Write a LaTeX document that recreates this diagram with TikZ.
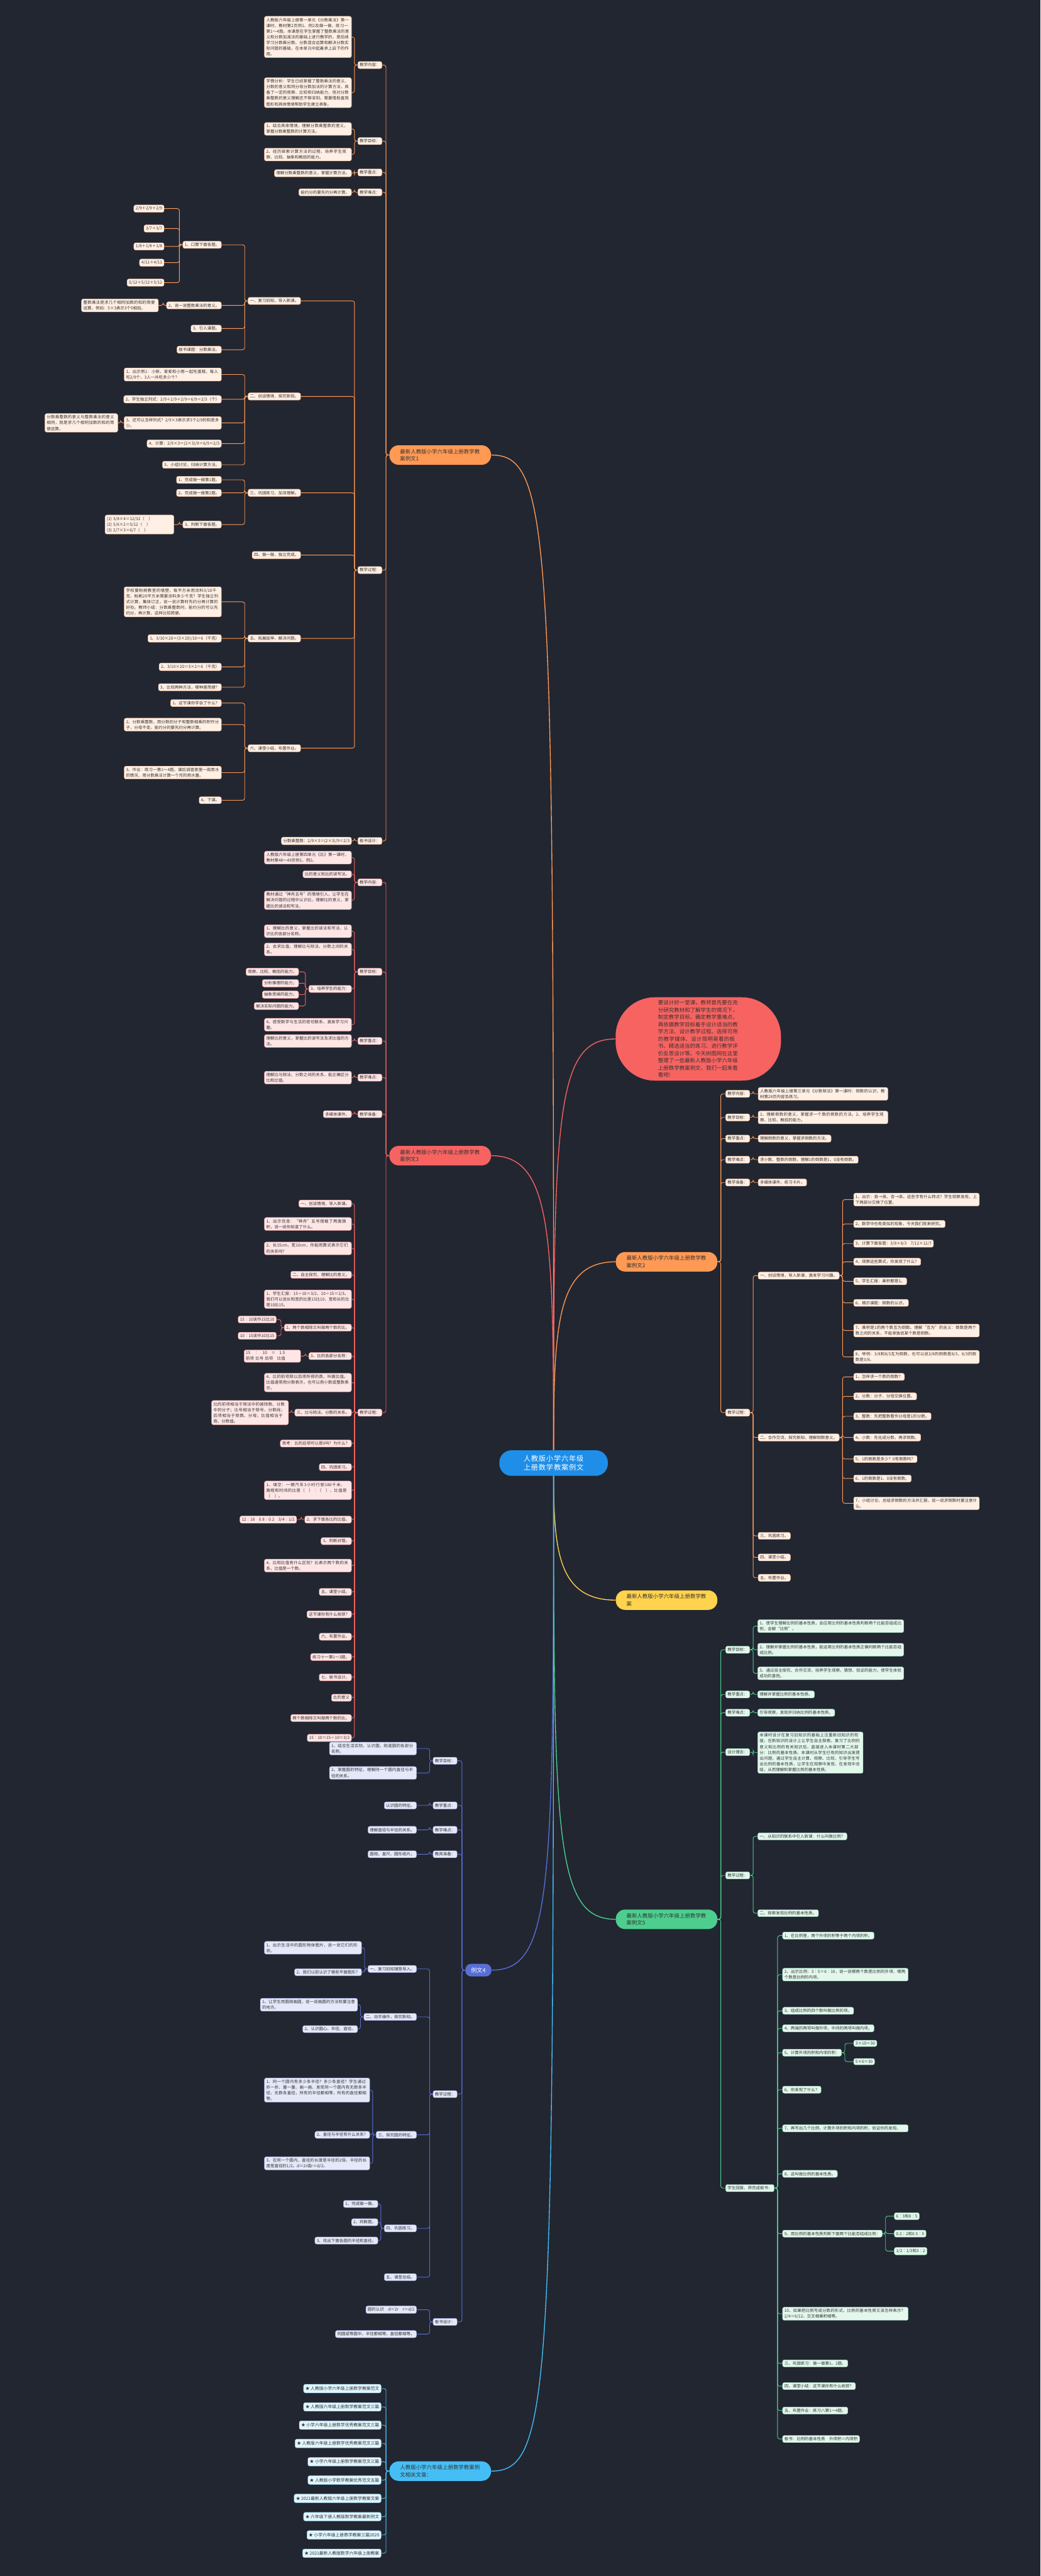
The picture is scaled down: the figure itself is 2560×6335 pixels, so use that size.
\documentclass[tikz,border=0pt]{standalone}
\usepackage{fontspec}
\setmainfont{Noto Sans CJK SC}
\XeTeXlinebreaklocale "zh"
\XeTeXlinebreakskip = 0pt plus 1pt
\usetikzlibrary{backgrounds}
\definecolor{bgdark}{RGB}{34,38,49}
\definecolor{rootblue}{RGB}{30,142,232}
\definecolor{orgA}{RGB}{255,153,84}
\definecolor{redA}{RGB}{247,99,97}
\definecolor{yelA}{RGB}{255,211,77}
\definecolor{grnA}{RGB}{77,206,142}
\definecolor{bluA}{RGB}{89,111,214}
\definecolor{cyaA}{RGB}{69,190,246}
\definecolor{textdark}{RGB}{51,51,51}
\newcommand{\linkL}[3]{\draw[link=#1] (#2.west) -- ++(-8,0) |- (#3.east);}
\newcommand{\linkR}[3]{\draw[link=#1] (#2.east) -- ++(8,0) |- (#3.west);}
\begin{document}
\begin{tikzpicture}[x=0.02cm,y=-0.02cm,
  rootnode/.style={fill=rootblue,text=white,rounded corners=17pt,minimum width=5.34cm,
    minimum height=1.26cm,text width=3.9cm,align=center,inner sep=2pt,font=\fontsize{9.9}{12.6}\selectfont},
  branch/.style={fill=#1,text=textdark,rounded corners=13pt,minimum width=5cm,minimum height=0.96cm,
    text width=3.95cm,inner xsep=0.52cm,inner ysep=2pt,align=left,font=\fontsize{7.4}{10}\selectfont},
  introbox/.style={fill=redA,text=textdark,rounded corners=55pt,minimum width=8.14cm,minimum height=4.1cm,
    text width=3.95cm,align=left,inner sep=2pt,font=\fontsize{7.4}{10.1}\selectfont},
  tag/.style={fill=#1!16!white,draw=#1!60!white,line width=0.4pt,rounded corners=2.5pt,text=textdark,
    inner xsep=2.6pt,inner ysep=2.3pt,font=\fontsize{5.7}{8}\selectfont},
  para/.style 2 args={tag=#1,text width=#2,align=left},
  link/.style={draw=#1,line width=0.8pt,rounded corners=3pt},
  trunk/.style={draw=#1,line width=1.2pt}
]
  \useasboundingbox (0,0) rectangle (2560,6335);

  % central topic
  \node[rootnode] (root) at (1362,3598) {人教版小学六年级上册数学教案例文};

  % intro text
  \node[introbox] (intro) at (1718,2555) {要设计好一堂课，教师首先要在充分研究教材和了解学生的情况下，制定教学目标、确定教学重难点，再依据教学目标着手设计适当的教学方法、设计教学过程、选择可用的教学媒体、设计简明易看的板书、精选适当的练习、进行教学评价反思设计等。今天树图网在这里整理了一些最新人教版小学六年级上册数学教案例文，我们一起来看看吧!};

  % example 1
  \node[branch=orgA] (b1) at (1083,1119) {最新人教版小学六年级上册数学教案例文1};
  \begin{scope}[every node/.append style={anchor=east}]
    \node[tag=orgA] (s1a) at (940,160) {教学内容：};
    \node[tag=orgA] (s1b) at (940,347) {教学目标：};
    \node[tag=orgA] (s1c) at (940,424) {教学重点：};
    \node[tag=orgA] (s1d) at (940,473) {教学难点：};
    \node[tag=orgA] (s1e) at (940,1402) {教学过程：};
    \node[tag=orgA] (s1f) at (940,2068) {板书设计：};
    \node[para={orgA}{4.1cm}] (l1a1) at (865,91) {人教版六年级上册第一单元《分数乘法》第一课时，教材第2页例1、例2及做一做，练习一第1～4题。本课是在学生掌握了整数乘法的意义和分数加减法的基础上进行教学的，是后续学习分数乘分数、分数混合运算和解决分数实际问题的基础，在本单元中起着承上启下的作用。};
    \node[para={orgA}{4.1cm}] (l1a2) at (865,228) {学情分析：学生已经掌握了整数乘法的意义、分数的意义和同分母分数加法的计算方法，具备了一定的观察、比较和归纳能力，但对分数乘整数的意义理解还不够深刻，需要借助直观图形和具体情境帮助学生建立表象。};
    \node[para={orgA}{4.1cm}] (l1b1) at (865,317) {1、结合具体情境，理解分数乘整数的意义，掌握分数乘整数的计算方法。};
    \node[para={orgA}{4.1cm}] (l1b2) at (865,380) {2、经历探索计算方法的过程，培养学生观察、比较、抽象和概括的能力。};
    \node[tag=orgA] (l1c1) at (865,426) {理解分数乘整数的意义，掌握计算方法。};
    \node[tag=orgA] (l1d1) at (865,473) {能约分的要先约分再计算。};
    \node[tag=orgA] (l1f1) at (865,2068) {分数乘整数：2/9×3＝(2×3)/9＝2/3};
    \node[tag=orgA] (t1a) at (740,740) {一、复习旧知，导入新课。};
    \node[tag=orgA] (t1b) at (740,975) {二、创设情境，探究新知。};
    \node[tag=orgA] (t1c) at (740,1212) {三、巩固练习，加深理解。};
    \node[tag=orgA] (t1d) at (740,1365) {四、做一做，独立完成。};
    \node[tag=orgA] (t1e) at (740,1570) {五、拓展延伸，解决问题。};
    \node[tag=orgA] (t1f) at (740,1840) {六、课堂小结，布置作业。};
    \node[tag=orgA] (u1a) at (545,602) {1、口算下面各题。};
    \node[tag=orgA] (u1b) at (545,751) {2、说一说整数乘法的意义。};
    \node[tag=orgA] (u1c) at (545,808) {3、引入课题。};
    \node[tag=orgA] (u1d) at (545,860) {板书课题：分数乘法。};
    \node[tag=orgA] (v1a) at (404,513) {2/9＋2/9＋2/9};
    \node[tag=orgA] (v1b) at (404,562) {3/7＋3/7};
    \node[tag=orgA] (v1c) at (404,606) {1/8＋1/8＋1/8};
    \node[tag=orgA] (v1d) at (404,646) {4/11＋4/11};
    \node[tag=orgA] (v1e) at (404,695) {5/12＋5/12＋5/12};
    \node[para={orgA}{3.6cm}] (v1f) at (390,751) {整数乘法是求几个相同加数的和的简便运算，例如：5×3表示3个5相加。};
    \node[para={orgA}{4.6cm}] (u1f) at (545,921) {1、出示例1：小新、爱爱和小雨一起吃蛋糕，每人吃2/9个，3人一共吃多少个？};
    \node[tag=orgA] (u1g) at (545,982) {2、学生独立列式：2/9＋2/9＋2/9＝6/9＝2/3（个）};
    \node[para={orgA}{4.6cm}] (u1h) at (545,1040) {3、还可以怎样列式？2/9×3表示求3个2/9的和是多少。};
    \node[para={orgA}{3.4cm}] (v1g) at (290,1040) {分数乘整数的意义与整数乘法的意义相同，就是求几个相同加数的和的简便运算。};
    \node[tag=orgA] (u1i) at (545,1091) {4、计算：2/9×3＝(2×3)/9＝6/9＝2/3};
    \node[tag=orgA] (u1j) at (545,1143) {5、小组讨论，归纳计算方法。};
    \node[tag=orgA] (u1k) at (545,1180) {1、完成做一做第1题。};
    \node[tag=orgA] (u1l) at (545,1212) {2、完成做一做第2题。};
    \node[tag=orgA] (u1m) at (545,1290) {3、判断下面各题。};
    \node[para={orgA}{3.2cm}] (v1h) at (428,1290) {(1) 3/8×4＝12/32（　）\\(2) 5/6×2＝5/12（　）\\(3) 2/7×3＝6/7（　）};
    \node[para={orgA}{4.6cm}] (u1n) at (545,1480) {学校要粉刷教室的墙壁，每平方米用涂料3/10千克，粉刷20平方米需要涂料多少千克？学生独立列式计算，集体订正，说一说计算时先约分再计算的好处。教师小结：分数乘整数时，能约分的可以先约分，再计算，这样比较简便。};
    \node[tag=orgA] (u1o) at (545,1570) {1、3/10×20＝(3×20)/10＝6（千克）};
    \node[tag=orgA] (u1p) at (545,1640) {2、3/10×20＝3×2＝6（千克）};
    \node[tag=orgA] (u1q) at (545,1690) {3、比较两种方法，哪种更简便？};
    \node[tag=orgA] (u1r) at (545,1729) {1、这节课你学会了什么？};
    \node[para={orgA}{4.6cm}] (u1s) at (545,1782) {2、分数乘整数，用分数的分子和整数相乘的积作分子，分母不变。能约分的要先约分再计算。};
    \node[para={orgA}{4.6cm}] (u1t) at (545,1900) {3、作业：练习一第1～4题。课后调查家里一周用水的情况，用分数乘法计算一个月的用水量。};
    \node[tag=orgA] (u1u) at (545,1968) {4、下课。};
  \end{scope}

  % example 3
  \node[branch=redA] (b3) at (1083,2842) {最新人教版小学六年级上册数学教案例文3};
  \begin{scope}[every node/.append style={anchor=east}]
    \node[tag=redA] (s3a) at (940,2170) {教学内容：};
    \node[tag=redA] (s3b) at (940,2390) {教学目标：};
    \node[tag=redA] (s3c) at (940,2560) {教学重点：};
    \node[tag=redA] (s3d) at (940,2650) {教学难点：};
    \node[tag=redA] (s3e) at (940,2740) {教学准备：};
    \node[tag=redA] (s3f) at (940,3474) {教学过程：};
    \node[para={redA}{4.1cm}] (l3a1) at (865,2109) {人教版六年级上册第四单元《比》第一课时，教材第48～49页例1、例2。};
    \node[tag=redA] (l3a2) at (865,2150) {比的意义和比的读写法。};
    \node[para={redA}{4.1cm}] (l3a3) at (865,2214) {教材通过“神舟五号”的情境引入，让学生在解决问题的过程中认识比，理解比的意义，掌握比的读法和写法。};
    \node[para={redA}{4.1cm}] (l3b1) at (865,2290) {1、理解比的意义，掌握比的读法和写法，认识比的各部分名称。};
    \node[para={redA}{4.1cm}] (l3b2) at (865,2335) {2、会求比值，理解比与除法、分数之间的关系。};
    \node[tag=redA] (l3b3) at (865,2432) {3、培养学生的能力：};
    \node[para={redA}{4.1cm}] (l3b4) at (865,2520) {4、感受数学与生活的密切联系，激发学习兴趣。};
    \node[tag=redA] (w3a) at (735,2390) {观察、比较、概括的能力；};
    \node[tag=redA] (w3b) at (735,2418) {分析推理的能力；};
    \node[tag=redA] (w3c) at (735,2446) {抽象思维的能力；};
    \node[tag=redA] (w3d) at (735,2474) {解决实际问题的能力。};
    \node[para={redA}{4.1cm}] (l3c1) at (865,2560) {理解比的意义，掌握比的读写法及求比值的方法。};
    \node[para={redA}{4.1cm}] (l3d1) at (865,2650) {理解比与除法、分数之间的关系，能正确区分比和比值。};
    \node[tag=redA] (l3e1) at (865,2740) {多媒体课件。};
    \node[tag=redA] (p01) at (865,2960) {一、创设情境，导入新课。};
    \node[para={redA}{4.1cm}] (p02) at (865,3010) {1、出示信息：“神舟”五号搭载了两面旗帜，说一说你知道了什么。};
    \node[para={redA}{4.1cm}] (p03) at (865,3070) {2、长15cm，宽10cm，你能用算式表示它们的关系吗？};
    \node[tag=redA] (p04) at (865,3135) {二、自主探究，理解比的意义。};
    \node[para={redA}{4.1cm}] (p05) at (865,3195) {1、学生汇报：15÷10＝3/2，10÷15＝2/3。我们可以说长和宽的比是15比10，宽和长的比是10比15。};
    \node[tag=redA] (p06) at (865,3265) {2、两个数相除又叫做两个数的比。};
    \node[tag=redA] (p06a) at (680,3245) {15∶10读作15比10};
    \node[tag=redA] (p06b) at (680,3285) {10∶15读作10比15};
    \node[tag=redA] (p07) at (865,3335) {3、比的各部分名称：};
    \node[para={redA}{2.6cm}] (p07a) at (740,3335) {15　∶　10　＝　1.5\\前项 比号 后项　比值};
    \node[para={redA}{4.1cm}] (p08) at (865,3400) {4、比的前项除以后项所得的商，叫做比值。比值通常用分数表示，也可以用小数或整数表示。};
    \node[tag=redA] (p09) at (865,3474) {三、比与除法、分数的关系。};
    \node[para={redA}{3.6cm}] (p09a) at (710,3474) {比的前项相当于除法中的被除数、分数中的分子；比号相当于除号、分数线；后项相当于除数、分母；比值相当于商、分数值。};
    \node[tag=redA] (p10) at (865,3550) {思考：比的后项可以是0吗？为什么？};
    \node[tag=redA] (p11) at (865,3608) {四、巩固练习。};
    \node[para={redA}{4.1cm}] (p12) at (865,3665) {1、填空：一辆汽车3小时行驶180千米，路程和时间的比是（　）∶（　），比值是（　）。};
    \node[tag=redA] (p13) at (865,3737) {2、求下面各比的比值。};
    \node[tag=redA] (p13a) at (730,3737) {12∶18　0.8∶0.2　3/4∶1/2};
    \node[tag=redA] (p14) at (865,3790) {3、判断对错。};
    \node[para={redA}{4.1cm}] (p15) at (865,3850) {4、比和比值有什么区别？比表示两个数的关系，比值是一个数。};
    \node[tag=redA] (p16) at (865,3915) {五、课堂小结。};
    \node[tag=redA] (p17) at (865,3970) {这节课你有什么收获？};
    \node[tag=redA] (p18) at (865,4025) {六、布置作业。};
    \node[tag=redA] (p19) at (865,4075) {练习十一第1～3题。};
    \node[tag=redA] (p20) at (865,4125) {七、板书设计。};
    \node[tag=redA] (p21) at (865,4175) {比的意义};
    \node[tag=redA] (p22) at (865,4225) {两个数相除又叫做两个数的比。};
    \node[tag=redA] (p23) at (865,4274) {15∶10＝15÷10＝3/2};
  \end{scope}

  % example 2
  \node[branch=orgA] (b2) at (1640,3103) {最新人教版小学六年级上册数学教案例文2};
  \begin{scope}[every node/.append style={anchor=west}]
    \node[tag=orgA] (s2a) at (1785,2690) {教学内容：};
    \node[tag=orgA] (s2b) at (1785,2748) {教学目标：};
    \node[tag=orgA] (s2c) at (1785,2800) {教学重点：};
    \node[tag=orgA] (s2d) at (1785,2852) {教学难点：};
    \node[tag=orgA] (s2e) at (1785,2908) {教学准备：};
    \node[tag=orgA] (s2f) at (1785,3474) {教学过程：};
    \node[para={orgA}{6.2cm}] (l2a1) at (1865,2690) {人教版六年级上册第三单元《分数除法》第一课时：倒数的认识，教材第28页内容及练习。};
    \node[para={orgA}{6.2cm}] (l2b1) at (1865,2748) {1、理解倒数的意义，掌握求一个数的倒数的方法。2、培养学生观察、比较、概括的能力。};
    \node[tag=orgA] (l2c1) at (1865,2800) {理解倒数的意义，掌握求倒数的方法。};
    \node[tag=orgA] (l2d1) at (1865,2852) {求小数、整数的倒数，理解1的倒数是1，0没有倒数。};
    \node[tag=orgA] (l2e1) at (1865,2908) {多媒体课件、练习卡片。};
    \node[tag=orgA] (r2a) at (1865,3137) {一、创设情境，导入新课，激发学习兴趣。};
    \node[tag=orgA] (r2b) at (1865,3535) {二、合作交流，探究新知，理解倒数意义。};
    \node[tag=orgA] (r2c) at (1865,3777) {三、巩固练习。};
    \node[tag=orgA] (r2d) at (1865,3830) {四、课堂小结。};
    \node[tag=orgA] (r2e) at (1865,3880) {五、布置作业。};
    \node[para={orgA}{6cm}] (x2a) at (2100,2950) {1、出示：吞→吴、杏→呆。这些字有什么特点？学生观察发现，上下两部分交换了位置。};
    \node[tag=orgA] (x2b) at (2100,3010) {2、数学中也有类似的现象，今天我们就来研究。};
    \node[tag=orgA] (x2c) at (2100,3058) {3、计算下面各题：3/8×8/3　7/12×12/7};
    \node[tag=orgA] (x2d) at (2100,3103) {4、观察这些算式，你发现了什么？};
    \node[tag=orgA] (x2e) at (2100,3151) {5、学生汇报：乘积都是1。};
    \node[tag=orgA] (x2f) at (2100,3204) {6、揭示课题：倒数的认识。};
    \node[para={orgA}{6cm}] (x2g) at (2100,3272) {7、乘积是1的两个数互为倒数。理解“互为”的含义：倒数是两个数之间的关系，不能单独说某个数是倒数。};
    \node[para={orgA}{6cm}] (x2h) at (2100,3337) {8、举例：3/8和8/3互为倒数，也可以说3/8的倒数是8/3，8/3的倒数是3/8。};
    \node[tag=orgA] (y2a) at (2100,3386) {1、怎样求一个数的倒数？};
    \node[tag=orgA] (y2b) at (2100,3434) {2、分数：分子、分母交换位置。};
    \node[tag=orgA] (y2c) at (2100,3483) {3、整数：先把整数看作分母是1的分数。};
    \node[tag=orgA] (y2d) at (2100,3535) {4、小数：先化成分数，再求倒数。};
    \node[tag=orgA] (y2e) at (2100,3588) {5、1的倒数是多少？0有倒数吗？};
    \node[tag=orgA] (y2f) at (2100,3636) {6、1的倒数是1，0没有倒数。};
    \node[para={orgA}{6cm}] (y2g) at (2100,3697) {7、小组讨论，总结求倒数的方法并汇报，说一说求倒数时要注意什么。};
  \end{scope}

  % plain lesson plan
  \node[branch=yelA] (b4) at (1640,3935) {最新人教版小学六年级上册数学教案};

  % example 5
  \node[branch=grnA] (b5) at (1640,4720) {最新人教版小学六年级上册数学教案例文5};
  \begin{scope}[every node/.append style={anchor=west}]
    \node[tag=grnA] (s5a) at (1785,4057) {教学目标：};
    \node[tag=grnA] (s5b) at (1785,4167) {教学重点：};
    \node[tag=grnA] (s5c) at (1785,4212) {教学难点：};
    \node[tag=grnA] (s5d) at (1785,4309) {设计理念：};
    \node[tag=grnA] (s5e) at (1785,4612) {教学过程：};
    \node[tag=grnA] (s5f) at (1785,5381) {学生回报，师完成板书：};
    \node[para={grnA}{7cm}] (l5a1) at (1864,3999) {1、使学生理解比例的基本性质，会应用比例的基本性质判断两个比能否组成比例，会解“比例”。};
    \node[para={grnA}{7cm}] (l5a2) at (1864,4057) {2、理解并掌握比例的基本性质，能运用比例的基本性质正确判断两个比能否组成比例。};
    \node[para={grnA}{7cm}] (l5a3) at (1864,4115) {3、通过自主探究、合作交流，培养学生观察、猜想、验证的能力，使学生体验成功的喜悦。};
    \node[tag=grnA] (l5b1) at (1864,4167) {理解并掌握比例的基本性质。};
    \node[tag=grnA] (l5c1) at (1864,4212) {引导观察，发现并归纳比例的基本性质。};
    \node[para={grnA}{5cm}] (l5d1) at (1864,4310) {本课时设计在复习旧知识的基础上注重新旧知识的衔接，在新知识的设计上让学生自主探索。复习了比例的意义和比例的有关知识后，直接进入本课时第二大部分：比例的基本性质。本课时从学生已有的知识出发提出问题，通过学生自主计算、观察、比较，引导学生写出比例的基本性质，让学生在观察中发现，在发现中总结，从而理解和掌握比例的基本性质。};
    \node[tag=grnA] (l5e1) at (1864,4516) {一、从知识的联系中引入新课：什么叫做比例？};
    \node[tag=grnA] (l5e2) at (1864,4705) {二、探索发现比例的基本性质。};
    \node[tag=grnA] (z5a) at (1925,4760) {1、在比例里，两个外项的积等于两个内项的积。};
    \node[para={grnA}{6cm}] (z5b) at (1925,4856) {2、出示比例：3∶5＝6∶10，说一说哪两个数是比例的外项，哪两个数是比例的内项。};
    \node[tag=grnA] (z5c) at (1925,4945) {3、组成比例的四个数叫做比例的项。};
    \node[tag=grnA] (z5d) at (1925,4988) {4、两端的两项叫做外项，中间的两项叫做内项。};
    \node[tag=grnA] (z5e) at (1925,5048) {5、计算外项的积和内项的积：};
    \node[tag=grnA] (z5e1) at (2100,5025) {3×10＝30};
    \node[tag=grnA] (z5e2) at (2100,5070) {5×6＝30};
    \node[tag=grnA] (z5f) at (1925,5139) {6、你发现了什么？};
    \node[para={grnA}{6cm}] (z5g) at (1925,5234) {7、再写出几个比例，计算外项的积和内项的积，验证你的发现。};
    \node[tag=grnA] (z5h) at (1925,5346) {8、这叫做比例的基本性质。};
    \node[tag=grnA] (z5i) at (1925,5493) {9、用比例的基本性质判断下面两个比能否组成比例：};
    \node[tag=grnA] (z5i1) at (2200,5450) {6∶3和8∶5};
    \node[tag=grnA] (z5i2) at (2200,5493) {0.2∶2和0.5∶5};
    \node[tag=grnA] (z5i3) at (2200,5536) {1/2∶1/3和3∶2};
    \node[para={grnA}{6cm}] (z5j) at (1925,5690) {10、如果把比例写成分数的形式，比例的基本性质又该怎样表示？2/4＝6/12，交叉相乘积相等。};
    \node[tag=grnA] (z5k) at (1925,5812) {三、巩固练习：做一做第1、2题。};
    \node[tag=grnA] (z5l) at (1925,5868) {四、课堂小结：这节课你有什么收获？};
    \node[tag=grnA] (z5m) at (1925,5928) {五、布置作业：练习八第1～4题。};
    \node[tag=grnA] (z5n) at (1925,5998) {板书：比例的基本性质　外项积＝内项积};
  \end{scope}

  % example 4
  \node[fill=bluA,text=white,rounded corners=8pt,minimum width=1.28cm,minimum height=0.62cm,
    font=\fontsize{8}{10}\selectfont] (b6) at (1177,4845) {例文4};
  \begin{scope}[every node/.append style={anchor=east}]
    \node[tag=bluA] (s6a) at (1125,4330) {教学目标：};
    \node[tag=bluA] (s6b) at (1125,4440) {教学重点：};
    \node[tag=bluA] (s6c) at (1125,4500) {教学难点：};
    \node[tag=bluA] (s6d) at (1125,4560) {教具准备：};
    \node[tag=bluA] (s6e) at (1125,5150) {教学过程：};
    \node[tag=bluA] (s6f) at (1125,5710) {板书设计：};
    \node[para={bluA}{4.1cm}] (l6a1) at (1025,4300) {1、结合生活实际，认识圆，知道圆的各部分名称。};
    \node[para={bluA}{4.1cm}] (l6a2) at (1025,4360) {2、掌握圆的特征，理解同一个圆内直径与半径的关系。};
    \node[tag=bluA] (l6b1) at (1025,4440) {认识圆的特征。};
    \node[tag=bluA] (l6c1) at (1025,4500) {理解直径与半径的关系。};
    \node[tag=bluA] (l6d1) at (1025,4560) {圆规、直尺、圆形纸片。};
    \node[tag=bluA] (q6a) at (1025,4842) {一、复习旧知铺垫导入。};
    \node[tag=bluA] (q6b) at (1025,4960) {二、动手操作，探究新知。};
    \node[tag=bluA] (q6c) at (1025,5250) {三、探究圆的特征。};
    \node[tag=bluA] (q6d) at (1025,5480) {四、巩固练习。};
    \node[tag=bluA] (q6e) at (1025,5600) {五、课堂总结。};
    \node[para={bluA}{4.6cm}] (q6a1) at (890,4790) {1、出示生活中的圆形物体图片，说一说它们的形状。};
    \node[tag=bluA] (q6a2) at (890,4850) {2、我们以前认识了哪些平面图形？};
    \node[para={bluA}{4.6cm}] (q6b1) at (880,4930) {1、让学生用圆规画圆，说一说画圆的方法和要注意的地方。};
    \node[tag=bluA] (q6b2) at (880,4990) {2、认识圆心、半径、直径。};
    \node[para={bluA}{5cm}] (q6c1) at (910,5140) {1、同一个圆内有多少条半径？多少条直径？学生通过折一折、量一量、画一画，发现同一个圆内有无数条半径，无数条直径，所有的半径都相等，所有的直径都相等。};
    \node[tag=bluA] (q6c2) at (910,5250) {2、直径与半径有什么关系？};
    \node[para={bluA}{5cm}] (q6c3) at (910,5320) {3、在同一个圆内，直径的长度是半径的2倍，半径的长度是直径的1/2。d＝2r或r＝d/2。};
    \node[tag=bluA] (q6d1) at (930,5420) {1、完成做一做。};
    \node[tag=bluA] (q6d2) at (930,5465) {2、判断题。};
    \node[tag=bluA] (q6d3) at (930,5510) {3、找出下面各圆的半径和直径。};
    \node[tag=bluA] (l6f1) at (1025,5680) {圆的认识　d＝2r　r＝d/2};
    \node[tag=bluA] (l6f2) at (1025,5740) {同圆或等圆中，半径都相等，直径都相等。};
  \end{scope}

  % related articles
  \node[branch=cyaA] (b7) at (1083,6077) {人教版小学六年级上册数学教案例文相关文章：};
  \foreach \ttl [count=\k from 0] in {★ 人教版小学六年级上册数学教案范文,
      ★ 人教版六年级上册数学教案范文三篇, ★ 小学六年级上册数学优秀教案范文三篇,
      ★ 人教版六年级上册数学优秀教案范文三篇, ★ 小学六年级上册数学教案范文三篇,
      ★ 人教版小学数学教案优秀范文五篇, ★ 2021最新人教版六年级上册数学教案文案,
      ★ 六年级下册人教版数学教案最新例文, ★ 小学六年级上册数学教案三篇2020,
      ★ 2021最新人教版数学六年级上册教案}
    \node[tag=cyaA,anchor=east,inner ysep=3.2pt,font=\fontsize{6}{8}\selectfont] (rel\k) at (938,5874+45*\k) {\ttl};

  % connectors
  \begin{scope}[on background layer]
    \fill[bgdark] (0,0) rectangle (2560,6335);
    \draw[trunk=orgA] (root.center) .. controls +(0,-2280) and +(150,0) .. (b1.east);
    \draw[trunk=redA] (root.center) .. controls +(0,-850) and +(-150,0) .. (intro.west);
    \draw[trunk=redA] (root.center) .. controls +(0,-560) and +(150,0) .. (b3.east);
    \draw[trunk=orgA] (root.center) .. controls +(0,-330) and +(-150,0) .. (b2.west);
    \draw[trunk=yelA] (root.center) .. controls +(0,200) and +(-150,0) .. (b4.west);
    \draw[trunk=grnA] (root.center) .. controls +(0,920) and +(-150,0) .. (b5.west);
    \draw[trunk=bluA] (root.center) .. controls +(0,1050) and +(150,0) .. (b6.east);
    \draw[trunk=cyaA] (root.center) .. controls +(0,2280) and +(150,0) .. (b7.east);
    % example 1
    \foreach \kid in {s1a,s1b,s1c,s1d,s1e,s1f} {\linkL{orgA}{b1}{\kid}}
    \foreach \kid in {l1a1,l1a2} {\linkL{orgA}{s1a}{\kid}}
    \foreach \kid in {l1b1,l1b2} {\linkL{orgA}{s1b}{\kid}}
    \linkL{orgA}{s1c}{l1c1}
    \linkL{orgA}{s1d}{l1d1}
    \linkL{orgA}{s1f}{l1f1}
    \foreach \kid in {t1a,t1b,t1c,t1d,t1e,t1f} {\linkL{orgA}{s1e}{\kid}}
    \foreach \kid in {u1a,u1b,u1c,u1d} {\linkL{orgA}{t1a}{\kid}}
    \foreach \kid in {v1a,v1b,v1c,v1d,v1e} {\linkL{orgA}{u1a}{\kid}}
    \linkL{orgA}{u1b}{v1f}
    \foreach \kid in {u1f,u1g,u1h,u1i,u1j} {\linkL{orgA}{t1b}{\kid}}
    \linkL{orgA}{u1h}{v1g}
    \foreach \kid in {u1k,u1l,u1m} {\linkL{orgA}{t1c}{\kid}}
    \linkL{orgA}{u1m}{v1h}
    \foreach \kid in {u1n,u1o,u1p,u1q} {\linkL{orgA}{t1e}{\kid}}
    \foreach \kid in {u1r,u1s,u1t,u1u} {\linkL{orgA}{t1f}{\kid}}
    % example 3
    \foreach \kid in {s3a,s3b,s3c,s3d,s3e,s3f} {\linkL{redA}{b3}{\kid}}
    \foreach \kid in {l3a1,l3a2,l3a3} {\linkL{redA}{s3a}{\kid}}
    \foreach \kid in {l3b1,l3b2,l3b3,l3b4} {\linkL{redA}{s3b}{\kid}}
    \foreach \kid in {w3a,w3b,w3c,w3d} {\linkL{redA}{l3b3}{\kid}}
    \linkL{redA}{s3c}{l3c1}
    \linkL{redA}{s3d}{l3d1}
    \linkL{redA}{s3e}{l3e1}
    \foreach \kid in {p01,p02,p03,p04,p05,p06,p07,p08,p09,p10,p11,p12,p13,p14,p15,p16,p17,p18,p19,p20,p21,p22,p23}
      {\linkL{redA}{s3f}{\kid}}
    \foreach \kid in {p06a,p06b} {\linkL{redA}{p06}{\kid}}
    \linkL{redA}{p07}{p07a}
    \linkL{redA}{p09}{p09a}
    \linkL{redA}{p13}{p13a}
    % example 2
    \foreach \kid in {s2a,s2b,s2c,s2d,s2e,s2f} {\linkR{orgA}{b2}{\kid}}
    \linkR{orgA}{s2a}{l2a1}
    \linkR{orgA}{s2b}{l2b1}
    \linkR{orgA}{s2c}{l2c1}
    \linkR{orgA}{s2d}{l2d1}
    \linkR{orgA}{s2e}{l2e1}
    \foreach \kid in {r2a,r2b,r2c,r2d,r2e} {\linkR{orgA}{s2f}{\kid}}
    \foreach \kid in {x2a,x2b,x2c,x2d,x2e,x2f,x2g,x2h} {\linkR{orgA}{r2a}{\kid}}
    \foreach \kid in {y2a,y2b,y2c,y2d,y2e,y2f,y2g} {\linkR{orgA}{r2b}{\kid}}
    % example 5
    \foreach \kid in {s5a,s5b,s5c,s5d,s5e,s5f} {\linkR{grnA}{b5}{\kid}}
    \foreach \kid in {l5a1,l5a2,l5a3} {\linkR{grnA}{s5a}{\kid}}
    \linkR{grnA}{s5b}{l5b1}
    \linkR{grnA}{s5c}{l5c1}
    \linkR{grnA}{s5d}{l5d1}
    \foreach \kid in {l5e1,l5e2} {\linkR{grnA}{s5e}{\kid}}
    \foreach \kid in {z5a,z5b,z5c,z5d,z5e,z5f,z5g,z5h,z5i,z5j,z5k,z5l,z5m,z5n} {\linkR{grnA}{s5f}{\kid}}
    \foreach \kid in {z5e1,z5e2} {\linkR{grnA}{z5e}{\kid}}
    \foreach \kid in {z5i1,z5i2,z5i3} {\linkR{grnA}{z5i}{\kid}}
    % example 4
    \foreach \kid in {s6a,s6b,s6c,s6d,s6e,s6f} {\linkL{bluA}{b6}{\kid}}
    \foreach \kid in {l6a1,l6a2} {\linkL{bluA}{s6a}{\kid}}
    \linkL{bluA}{s6b}{l6b1}
    \linkL{bluA}{s6c}{l6c1}
    \linkL{bluA}{s6d}{l6d1}
    \foreach \kid in {q6a,q6b,q6c,q6d,q6e} {\linkL{bluA}{s6e}{\kid}}
    \foreach \kid in {q6a1,q6a2} {\linkL{bluA}{q6a}{\kid}}
    \foreach \kid in {q6b1,q6b2} {\linkL{bluA}{q6b}{\kid}}
    \foreach \kid in {q6c1,q6c2,q6c3} {\linkL{bluA}{q6c}{\kid}}
    \foreach \kid in {q6d1,q6d2,q6d3} {\linkL{bluA}{q6d}{\kid}}
    \foreach \kid in {l6f1,l6f2} {\linkL{bluA}{s6f}{\kid}}
    % related
    \foreach \k in {0,...,9} {\linkL{cyaA}{b7}{rel\k}}
  \end{scope}
\end{tikzpicture}
\end{document}
